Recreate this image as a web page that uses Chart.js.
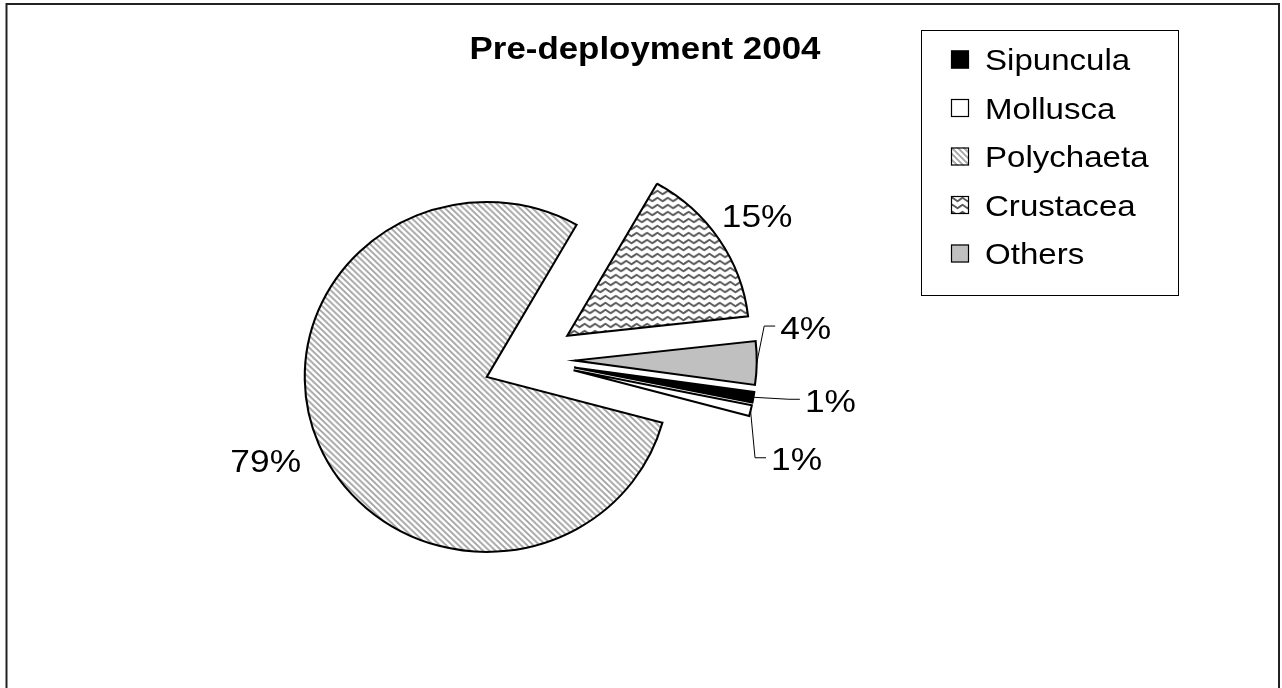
<!DOCTYPE html>
<html lang="en">
<head>
<meta charset="UTF-8" />
<title>Pre-deployment 2004</title>
<script src="https://cdn.jsdelivr.net/npm/chart.js"></script>
<style>
  html, body { margin: 0; padding: 0; background: #fff; }
  canvas { display: block; }
</style>
</head>
<body>
<canvas id="pieChart" width="1282" height="688"></canvas>
<script>
const chartTitle = 'Pre-deployment 2004';
const groups = ['Sipuncula', 'Mollusca', 'Polychaeta', 'Crustacea', 'Others'];
const percents = [1, 1, 79, 15, 4];

// where each value label sits, measured from the outer middle of its slice
const labelShift = [[77, 6], [46, 51], [-53, 19], [38, -21], [49, -33]];
const hasLeader = [true, true, false, false, true];

const FONT = "'Liberation Sans', Arial, sans-serif";
const EXPLODE = 44;   // every slice pulled out by this much
const WIDEN = 1.04;   // pie comes out slightly wider than tall

// fine "\" hatching
function hatchPattern() {
  const s = 6;
  const c = document.createElement('canvas');
  c.width = c.height = s;
  const g = c.getContext('2d');
  g.fillStyle = '#fff';
  g.fillRect(0, 0, s, s);
  g.strokeStyle = '#a4a4a4';
  g.lineWidth = 1.8;
  g.beginPath();
  g.moveTo(-1, -1); g.lineTo(s + 1, s + 1);
  g.moveTo(-1, s - 1); g.lineTo(1, s + 1);
  g.moveTo(s - 1, -1); g.lineTo(s + 1, 1);
  g.stroke();
  return g.createPattern(c, 'repeat');
}

// horizontal wavy lines
function wavePattern() {
  const c = document.createElement('canvas');
  c.width = 10; c.height = 7;
  const g = c.getContext('2d');
  g.fillStyle = '#fff';
  g.fillRect(0, 0, 10, 7);
  g.strokeStyle = '#5a5a5a';
  g.lineWidth = 1.9;
  g.lineJoin = 'round';
  g.beginPath();
  g.moveTo(-2.5, 5.2); g.lineTo(2.5, 1.8); g.lineTo(7.5, 5.2); g.lineTo(12.5, 1.8);
  g.stroke();
  return g.createPattern(c, 'repeat');
}

const fills = ['#000000', '#ffffff', hatchPattern(), wavePattern(), '#c0c0c0'];

function wideText(ctx, str, x, y, sx, align) {
  ctx.save();
  ctx.translate(x, y);
  ctx.scale(sx, 1);
  ctx.textAlign = align;
  ctx.fillText(str, 0, 0);
  ctx.restore();
}

const pieExtras = {
  id: 'pieExtras',
  afterDatasetsUpdate(chart) {
    chart.getDatasetMeta(0).data.forEach(arc => {
      const mid = (arc.startAngle + arc.endAngle) / 2;
      arc.x += Math.cos(mid) * EXPLODE;
      arc.y += Math.sin(mid) * EXPLODE;
    });
  },
  beforeDatasetsDraw(chart) {
    const ctx = chart.ctx;
    const cx = (chart.chartArea.left + chart.chartArea.right) / 2;
    ctx.save();
    ctx.translate(cx, 0);
    ctx.scale(WIDEN, 1);
    ctx.translate(-cx, 0);
  },
  afterDatasetsDraw(chart) {
    const ctx = chart.ctx;
    ctx.restore();
    const cx = (chart.chartArea.left + chart.chartArea.right) / 2;
    const sx = 1.14;

    ctx.font = '31px ' + FONT;
    ctx.fillStyle = '#000';
    ctx.textBaseline = 'middle';
    chart.getDatasetMeta(0).data.forEach((arc, i) => {
      const mid = (arc.startAngle + arc.endAngle) / 2;
      const ox = cx + WIDEN * (arc.x + Math.cos(mid) * arc.outerRadius - cx);
      const oy = arc.y + Math.sin(mid) * arc.outerRadius;
      const lx = ox + labelShift[i][0];
      const ly = oy + labelShift[i][1];
      const text = percents[i] + '%';
      wideText(ctx, text, lx, ly, sx, 'center');
      if (hasLeader[i]) {
        const left = lx - ctx.measureText(text).width * sx / 2;
        ctx.strokeStyle = '#000';
        ctx.lineWidth = 1;
        ctx.beginPath();
        ctx.moveTo(ox, oy);
        ctx.lineTo(left - 16, ly - 4);
        ctx.lineTo(left - 5, ly - 4);
        ctx.stroke();
      }
    });
  },
  afterDraw(chart) {
    const ctx = chart.ctx;
    ctx.save();
    ctx.fillStyle = '#000';
    ctx.textBaseline = 'alphabetic';

    ctx.font = 'bold 32px ' + FONT;
    wideText(ctx, chartTitle, 645, 59, 1.09, 'center');

    // legend box
    ctx.strokeStyle = '#000';
    ctx.lineWidth = 1;
    ctx.strokeRect(921.5, 30.5, 257, 265);
    ctx.font = '29px ' + FONT;
    groups.forEach((name, i) => {
      const mid = 59.5 + i * 48.5;
      ctx.fillStyle = fills[i];
      ctx.fillRect(951, mid - 9, 18, 18);
      ctx.strokeStyle = '#000';
      ctx.lineWidth = 1.2;
      ctx.strokeRect(951.5, mid - 8.5, 17, 17);
      ctx.fillStyle = '#000';
      wideText(ctx, name, 985, mid + 10.5, 1.14, 'left');
    });

    // outer frame
    ctx.strokeStyle = '#222';
    ctx.lineWidth = 2;
    ctx.strokeRect(6.5, 4, 1272.5, 700);
    ctx.restore();
  }
};

new Chart(document.getElementById('pieChart'), {
  type: 'pie',
  data: {
    labels: groups,
    datasets: [{
      data: percents,
      backgroundColor: fills,
      borderColor: '#000',
      borderWidth: 2,
      borderJoinStyle: 'miter'
    }]
  },
  options: {
    responsive: false,
    animation: false,
    events: [],
    rotation: 98,
    layout: { padding: { top: 184, bottom: 152, left: 353, right: 577 } },
    plugins: {
      legend: { display: false },
      tooltip: { enabled: false },
      title: { display: false }
    }
  },
  plugins: [pieExtras]
});
</script>
</body>
</html>
